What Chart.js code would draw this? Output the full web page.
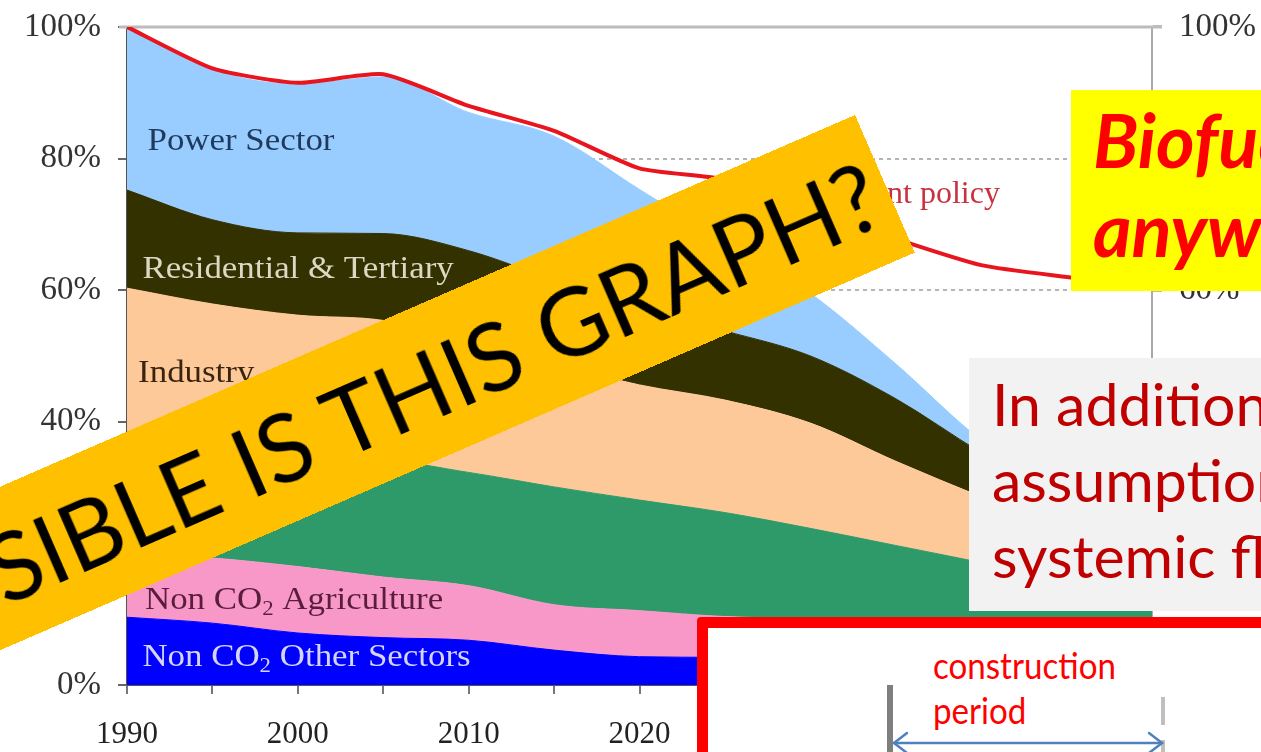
<!DOCTYPE html>
<html>
<head>
<meta charset="utf-8">
<script src="https://cdn.jsdelivr.net/npm/chart.js@4.4.1/dist/chart.umd.min.js"></script>
<style>
  html, body { margin: 0; padding: 0; background: #fff; }
  #wrap { position: relative; width: 1261px; height: 752px; overflow: hidden; background: #fff; }
  #wrap canvas { position: absolute; left: 0; top: 0; }
  .ov { position: absolute; box-sizing: border-box; white-space: nowrap; }
  #banner {
    left: -445px; top: 115px; width: 1300px; height: 150px;
    background: #FFC000; color: #000;
    transform-origin: 100% 0; transform: rotate(-23.5deg);
    display: flex; align-items: center; justify-content: flex-end;
    padding-right: 12px; font: 400 95px Lato, sans-serif; line-height: 1;
  }
  #bio {
    left: 1071px; top: 90px; width: 320px; height: 201px;
    background: #FFFF00; color: #FF0000;
    font: italic 700 74px Lato, sans-serif; line-height: 89px;
    padding: 5px 0 0 22px;
  }
  #note {
    left: 969px; top: 358px; width: 320px; height: 253px;
    background: #F2F2F2; color: #C00000;
    font: 400 59px Lato, sans-serif; line-height: 76px;
    padding: 8px 0 0 23px;
  }
  #redbox {
    left: 697px; top: 617px; width: 700px; height: 200px;
    border: 11px solid #FF0000; border-radius: 4px; background: #fff;
  }
  .cp {
    left: 933px; color: #FF0000; font: 400 36px Lato, sans-serif;
    transform: scaleX(0.92); transform-origin: 0 0; line-height: 1;
  }
  #bar1 { left: 887px; top: 685px; width: 6px; height: 80px; background: #7F7F7F; }
  #bar2 { left: 1161px; top: 697px; width: 4px; height: 28px; background: #BFBFBF; }
  #bar3 { left: 1161px; top: 740px; width: 4px; height: 20px; background: #BFBFBF; }
  #arrow { left: 885px; top: 728px; }
</style>
</head>
<body>
<div id="wrap">
  <canvas id="chart" width="1261" height="752"></canvas>
  <div id="banner" class="ov">HOW POSSIBLE IS THIS GRAPH?</div>
  <div id="bio" class="ov">Biofuels<br>anyway?</div>
  <div id="note" class="ov">In addition to the<br>assumptions, there<br>systemic flaws</div>
  <div id="redbox" class="ov"></div>
  <div class="ov cp" style="top:647px">construction</div>
  <div class="ov cp" style="top:692px">period</div>
  <div id="bar1" class="ov"></div>
  <div id="bar2" class="ov"></div>
  <div id="bar3" class="ov"></div>
  <svg id="arrow" class="ov" width="290" height="30">
    <g stroke="#4F81BD" stroke-width="2.5" fill="none" stroke-linecap="round">
      <line x1="9" y1="15" x2="277" y2="15"/>
      <polyline points="22,5 9,15 22,25"/>
      <polyline points="264,5 277,15 264,25"/>
    </g>
  </svg>
</div>
<script>
// EU GHG emissions, share of 1990 level (%), by sector
const years = [1990, 1995, 2000, 2005, 2010, 2015, 2020, 2025, 2030, 2035, 2040, 2045, 2050];
const otherSectors = [10.3, 9.4, 7.9, 7.2, 6.8, 5.3, 4.3, 4.2, 3.9, 3.6, 3.3, 3.0, 2.8];
const agriculture  = [9.7, 9.9, 10.1, 9.2, 8.3, 6.9, 7.0, 6.2, 6.2, 6.0, 5.8, 5.6, 5.4];
const transport    = [11.5, 13.2, 15.5, 17.6, 17.2, 17.9, 16.8, 15.8, 13.7, 11.6, 9.5, 7.2, 5.5];
const industry     = [28.8, 25.4, 22.7, 21.4, 19.9, 18.7, 17.5, 17.1, 16.0, 12.8, 10.0, 7.8, 5.4];
const residential  = [14.9, 12.8, 12.5, 13.2, 13.8, 12.7, 11.6, 10.5, 10.2, 9.5, 6.7, 4.4, 1.9];
const powerSector  = [24.8, 22.8, 22.6, 23.8, 21.0, 21.9, 18.1, 13.5, 9.5, 5.3, 1.9, 1.0, 1.0];
const currentPolicy = [100, 93.7, 91.5, 92.8, 88.0, 84.2, 78.5, 76.8, 72.3, 67.8, 63.8, 62.0, 60.5];

const xTickLabels = ['1990', '2000', '2010', '2020', '2030', '2040', '2050'];
const refLevels = [80, 60];

const pts = arr => arr.map((v, i) => ({ x: years[i], y: v }));
const serif = 'Liberation Serif, Times New Roman, serif';

const area = (label, data, color, fill) => ({
  label, data: pts(data), fill,
  backgroundColor: color, borderColor: color, borderWidth: 1,
  pointRadius: 0, cubicInterpolationMode: 'monotone', yAxisID: 'y'
});

// text on the areas: [text, year, value, colour]; "_2" marks a subscript 2
const areaText = [
  ['Power Sector', 1991.2, 82.6, '#1f3a5c'],
  ['Residential & Tertiary', 1990.9, 63.1, '#dcd8c4'],
  ['Industry', 1990.65, 47.3, '#3a2410'],
  ['Transport', 1990.8, 27.5, '#0c3a22'],
  ['Non CO_2 Agriculture', 1991.05, 12.8, '#5a1d3c'],
  ['Non CO_2 Other Sectors', 1990.9, 4.2, '#d4d4ff']
];

const decorPlugin = {
  id: 'decor',
  beforeDatasetsDraw(chart) {
    const { ctx, chartArea: a, scales: { y } } = chart;
    ctx.save();
    ctx.strokeStyle = '#b4b4b4';
    ctx.lineWidth = 2;
    ctx.setLineDash([4, 4]);
    refLevels.forEach(v => {
      const py = Math.round(y.getPixelForValue(v));
      ctx.beginPath(); ctx.moveTo(a.left, py); ctx.lineTo(a.right, py); ctx.stroke();
    });
    ctx.setLineDash([]);
    ctx.strokeStyle = '#bcbcbc';
    ctx.lineWidth = 3;
    const top = y.getPixelForValue(100);
    ctx.beginPath(); ctx.moveTo(a.left - 8, top); ctx.lineTo(a.right + 10, top); ctx.stroke();
    ctx.restore();
  },
  afterDatasetsDraw(chart) {
    const { ctx, scales: { x, y } } = chart;
    ctx.save();
    ctx.textBaseline = 'middle';
    const stretch = 1.09;
    areaText.forEach(([text, xv, yv, color]) => {
      const x0 = x.getPixelForValue(xv);
      const py = y.getPixelForValue(yv);
      ctx.save();
      ctx.translate(x0, 0);
      ctx.scale(stretch, 1);
      let px = 0;
      ctx.fillStyle = color;
      text.split('_').forEach((part, i) => {
        let s = part;
        ctx.font = '32px ' + serif;
        if (i > 0) {
          ctx.font = '21px ' + serif;
          ctx.fillText(part[0], px, py + 9);
          px += ctx.measureText(part[0]).width;
          ctx.font = '32px ' + serif;
          s = part.slice(1);
        }
        ctx.fillText(s, px, py);
        px += ctx.measureText(s).width;
      });
      ctx.restore();
    });
    ctx.font = '32px ' + serif;
    ctx.fillStyle = '#c8323f';
    ctx.textAlign = 'right';
    ctx.fillText('Current policy', x.getPixelForValue(2041.1), y.getPixelForValue(74.5));
    ctx.restore();
  }
};

new Chart(document.getElementById('chart').getContext('2d'), {
  type: 'line',
  data: {
    datasets: [
      {
        label: 'Current policy', data: pts(currentPolicy), yAxisID: 'yR',
        borderColor: '#E8141E', borderWidth: 4, fill: false,
        pointRadius: 0, tension: 0.2
      },
      area('Non CO2 Other Sectors', otherSectors, '#0000FF', 'origin'),
      area('Non CO2 Agriculture', agriculture, '#F898C8', '-1'),
      area('Transport', transport, '#2E9A69', '-1'),
      area('Industry', industry, '#FDC998', '-1'),
      area('Residential & Tertiary', residential, '#333100', '-1'),
      area('Power Sector', powerSector, '#99CCFF', '-1')
    ]
  },
  options: {
    responsive: false,
    animation: false,
    layout: { padding: { top: 23, left: 0, right: 0, bottom: 0 } },
    plugins: { legend: { display: false }, tooltip: { enabled: false } },
    scales: {
      x: {
        type: 'linear', min: 1990, max: 2050,
        ticks: {
          stepSize: 5, autoSkip: false, maxRotation: 0,
          callback: v => xTickLabels.includes(String(v)) ? String(v) : '',
          font: { family: serif, size: 31 }, color: '#222', padding: 22
        },
        grid: { drawOnChartArea: false, tickLength: 9, color: '#777', lineWidth: 2 },
        border: { color: '#555', width: 2 },
        afterFit: s => { s.height = 67; }
      },
      y: {
        stacked: true, min: 0, max: 100,
        ticks: { stepSize: 20, callback: v => v + '%', font: { family: serif, size: 33, lineHeight: 0.6 }, color: '#333', padding: 17 },
        grid: { drawOnChartArea: false, tickLength: 9, color: '#666', lineWidth: 2 },
        border: { color: '#555', width: 2 },
        afterFit: s => { s.width = 127; }
      },
      yR: {
        position: 'right', min: 0, max: 100,
        ticks: { stepSize: 20, callback: v => v + '%', font: { family: serif, size: 33, lineHeight: 0.6 }, color: '#333', padding: 17 },
        grid: { drawOnChartArea: false, tickLength: 10, color: '#bcbcbc', lineWidth: 3 },
        border: { color: '#aaa', width: 2 },
        afterFit: s => { s.width = 109; }
      }
    }
  },
  plugins: [decorPlugin]
});
</script>
</body>
</html>
